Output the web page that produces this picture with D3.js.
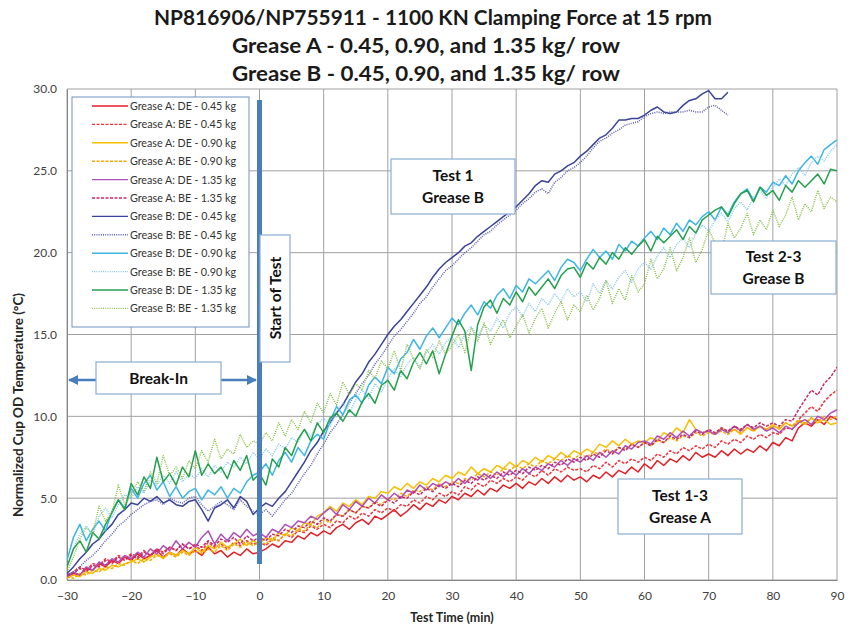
<!DOCTYPE html>
<html>
<head>
<meta charset="utf-8">
<script src="https://cdn.jsdelivr.net/npm/d3@7"></script>
<style>
body { margin: 0; background: #fff; }
text { font-family: Lato, "Open Sans", sans-serif; }
</style>
</head>
<body>
<div id="chart-area"></div>
<script>
// time axis, one reading per minute
var minutes = d3.range(-30, 91);
var xTicks = [-30, -20, -10, 0, 10, 20, 30, 40, 50, 60, 70, 80, 90];
var yTicks = [0, 5, 10, 15, 20, 25, 30];

var titleLines = [
    "NP816906/NP755911 - 1100 KN Clamping Force at 15 rpm",
    "Grease A - 0.45, 0.90, and 1.35 kg/ row",
    "Grease B - 0.45, 0.90, and 1.35 kg/ row"
];

var seriesNames = [
    "Grease A: DE - 0.45 kg", "Grease A: BE - 0.45 kg",
    "Grease A: DE - 0.90 kg", "Grease A: BE - 0.90 kg",
    "Grease A: DE - 1.35 kg", "Grease A: BE - 1.35 kg",
    "Grease B: DE - 0.45 kg", "Grease B: BE - 0.45 kg",
    "Grease B: DE - 0.90 kg", "Grease B: BE - 0.90 kg",
    "Grease B: DE - 1.35 kg", "Grease B: BE - 1.35 kg"
];

// values, t = -30 .. 90
var aDE045 = [0.2,0.4,0.3,0.7,0.6,1.0,0.8,1.2,1.0,1.4, 1.2,1.6,1.3,1.5,1.8,1.4,1.7,1.5,1.9,1.6,
    1.8,1.5,2.0,1.6,1.8,1.4,1.7,1.5,1.9,1.6, 1.7,1.9,2.2,2.0,2.4,2.3,2.7,2.5,2.9,2.7,
    3.0,2.8,3.2,3.4,3.1,3.5,3.7,3.4,3.9,3.7, 4.0,4.3,3.9,4.2,4.6,4.3,4.7,4.5,4.9,4.7,
    5.1,4.9,5.3,5.1,5.5,5.2,5.6,5.4,5.8,5.6, 5.9,5.6,6.0,5.8,6.2,5.9,6.3,6.0,6.4,6.1,
    6.3,6.0,6.4,6.2,6.6,6.3,6.7,6.5,6.9,6.6, 7.1,6.8,7.3,7.0,7.4,7.2,7.6,7.3,7.8,7.5,
    7.7,7.5,7.9,7.6,8.0,7.7,8.0,7.8,8.2,7.9, 8.4,8.2,8.7,8.5,9.3,9.6,9.4,9.8,9.5,10.0, 9.8];
var aBE045 = [0.3,0.5,0.8,0.6,1.0,0.9,1.3,1.1,1.5,1.3, 1.6,1.4,1.8,1.5,1.9,1.7,2.0,1.8,2.2,1.9,
    2.1,1.8,2.3,2.0,2.2,1.9,2.3,2.1,2.4,2.2, 2.3,2.1,2.5,2.4,2.8,2.6,3.0,2.9,3.3,3.1,
    3.4,3.2,3.6,3.5,3.9,3.7,4.1,3.9,4.3,4.1, 4.4,4.2,4.6,4.5,4.9,4.7,5.1,4.9,5.3,5.1,
    5.4,5.2,5.7,5.5,5.9,5.7,6.1,5.9,6.2,6.0, 6.3,6.1,6.5,6.3,6.7,6.4,6.8,6.6,6.9,6.7,
    6.8,6.6,7.0,6.8,7.2,6.9,7.3,7.1,7.4,7.2, 7.5,7.3,7.7,7.5,7.9,7.7,8.1,7.9,8.2,8.0,
    8.3,8.1,8.5,8.3,8.6,8.4,8.8,8.6,8.9,8.7, 9.0,8.9,9.3,9.2,9.8,10.2,10.6,10.3,10.9,11.3, 11.6];
var aDE090 = [0.1,0.3,0.2,0.5,0.4,0.7,0.6,0.9,0.8,1.0, 1.1,1.3,1.1,1.4,1.6,1.3,1.7,1.5,1.8,1.6,
    2.0,1.7,2.1,1.9,2.3,2.0,2.2,2.5,2.1,2.4, 2.2,2.6,2.4,2.9,2.7,3.2,3.0,3.5,3.4,3.9,
    4.1,4.5,4.2,4.7,4.5,4.9,4.6,5.1,5.0,5.4, 5.3,5.7,5.5,5.9,5.6,6.0,5.8,6.2,6.0,6.4,
    6.2,6.6,6.4,6.9,6.5,6.8,6.6,7.0,6.8,7.2, 6.9,7.3,7.1,7.5,7.2,7.6,7.4,7.8,7.5,7.9,
    7.7,8.0,7.8,8.3,8.1,8.5,8.2,8.6,8.3,8.5, 8.4,8.7,8.5,9.0,8.8,9.3,9.0,9.8,9.2,9.0,
    9.1,8.9,9.3,9.0,9.2,8.9,9.3,9.1,9.4,9.2, 9.5,9.2,9.6,9.4,9.7,9.5,9.9,9.6,9.8,9.5, 9.6];
var aBE090 = [0.2,0.1,0.4,0.3,0.6,0.5,0.8,0.7,1.0,0.9, 1.2,1.0,1.3,1.2,1.5,1.4,1.6,1.4,1.7,1.5,
    1.8,1.6,1.9,1.7,2.1,1.8,2.2,2.0,2.3,2.1, 2.3,2.2,2.6,2.4,2.8,2.7,3.1,3.0,3.4,3.2,
    3.7,3.5,4.0,3.9,4.3,4.1,4.5,4.4,4.8,4.6, 5.0,4.9,5.3,5.1,5.5,5.4,5.7,5.5,5.9,5.7,
    6.0,5.9,6.2,6.1,6.5,6.3,6.6,6.4,6.8,6.7, 7.0,6.8,7.1,6.9,7.3,7.1,7.4,7.3,7.6,7.4,
    7.7,7.5,7.8,7.7,8.0,7.8,8.1,8.0,8.3,8.1, 8.4,8.2,8.5,8.4,8.7,8.5,8.8,8.7,9.0,8.8,
    9.0,8.9,9.1,8.9,9.2,9.0,9.3,9.1,9.4,9.2, 9.4,9.3,9.6,9.4,9.8,9.6,9.9,9.7,10.0,9.8, 10.0];
var aDE135 = [0.2,0.5,0.3,0.8,0.6,1.1,0.9,1.3,1.1,1.5, 1.3,1.7,1.4,1.9,1.6,2.1,1.8,2.4,1.9,2.3,
    2.0,2.6,3.0,2.2,2.8,2.4,2.9,2.6,3.1,2.7, 2.9,2.6,3.1,2.9,3.4,3.2,3.6,3.5,3.9,3.7,
    4.1,4.4,4.0,4.6,4.3,4.8,4.5,5.0,4.7,5.2, 4.9,5.3,5.0,5.5,5.3,5.8,5.5,5.9,5.7,6.0,
    5.8,6.2,5.9,6.3,6.1,6.5,6.2,6.6,6.3,6.7, 6.4,6.8,6.5,6.9,6.7,7.1,6.9,7.3,7.0,7.4,
    7.2,7.6,7.3,7.8,7.5,7.9,7.7,8.2,8.0,8.4, 8.5,8.3,8.8,8.6,9.0,8.7,9.1,8.8,9.2,9.0,
    9.1,8.9,9.2,9.0,9.4,9.1,9.5,9.2,9.4,9.1, 9.3,9.0,9.4,9.2,9.6,9.8,9.5,10.0,9.8,10.2, 10.4];
var aBE135 = [0.3,0.4,0.7,0.5,0.9,0.8,1.2,1.0,1.4,1.2, 1.5,1.3,1.7,1.5,1.9,1.6,2.0,1.8,2.2,1.9,
    2.2,2.0,2.4,2.1,2.5,2.3,2.6,2.2,2.7,2.4, 2.6,2.4,2.8,2.7,3.1,2.9,3.3,3.2,3.6,3.4,
    3.8,3.6,4.0,3.9,4.3,4.1,4.5,4.4,4.7,4.5, 4.9,4.7,5.1,5.0,5.4,5.2,5.6,5.4,5.8,5.6,
    5.9,5.7,6.1,5.9,6.3,6.1,6.4,6.2,6.6,6.4, 6.7,6.5,6.9,6.7,7.0,6.8,7.2,7.0,7.4,7.2,
    7.5,7.3,7.7,7.5,7.9,7.7,8.1,7.9,8.3,8.1, 8.4,8.2,8.6,8.4,8.8,8.6,8.9,8.7,9.1,8.9,
    9.2,9.0,9.3,9.1,9.4,9.2,9.5,9.3,9.6,9.4, 9.6,9.4,9.8,9.7,10.4,11.0,11.6,11.3,12.0,12.4, 13.0];
// these two stop at t = 73
var bDE045 = [0.4,0.8,1.3,1.7,2.2,2.5,3.0,3.4,4.0,4.3, 4.7,4.6,5.0,4.8,5.1,4.7,4.9,4.6,4.5,4.8,
    4.9,4.3,3.6,4.4,4.6,4.9,4.4,5.1,4.8,4.0, 4.4,4.7,4.5,5.0,5.4,6.0,6.6,7.2,7.9,8.4,
    9.1,9.6,10.2,10.7,11.4,12.1,12.6,13.3,13.8,14.4, 15.0,15.5,15.9,16.4,16.9,17.4,17.9,18.5,19.0,19.4,
    19.7,20.0,20.4,20.6,21.0,21.3,21.6,21.9,22.2,22.5, 22.8,23.2,23.6,24.1,24.4,24.3,24.8,25.0,25.3,25.5,
    25.9,26.2,26.6,27.0,27.2,27.6,28.1,28.1,28.2,28.2, 28.4,28.7,28.9,28.6,28.5,28.6,29.0,29.3,29.4,29.7,
    29.9,29.4,29.4,29.8];
var bBE045 = [0.3,0.5,0.8,1.2,1.5,1.9,2.4,2.8,3.3,3.6, 4.0,4.3,4.6,4.8,4.9,4.6,5.0,4.8,4.7,5.0,
    5.1,4.6,4.2,4.5,4.8,4.6,4.3,4.9,4.5,4.2, 4.0,4.3,3.9,4.4,4.9,5.3,5.9,6.5,7.0,7.7,
    8.3,9.0,9.5,10.1,10.8,11.4,12.0,12.5,13.2,13.7, 14.3,14.9,15.3,15.8,16.3,16.9,17.3,17.9,18.4,18.9,
    19.2,19.6,20.0,20.3,20.7,21.1,21.3,21.7,22.0,22.3, 22.6,23.0,23.3,23.7,23.9,23.6,24.3,24.6,25.0,25.2,
    25.5,25.9,26.4,26.8,27.0,27.3,27.5,27.8,27.9,28.0, 28.3,28.5,28.6,28.5,28.6,28.6,28.6,28.7,28.6,28.6,
    28.9,29.0,28.7,28.4];
var bDE090 = [1.2,2.6,3.4,2.4,3.1,3.6,3.0,4.2,4.9,4.4, 5.6,5.0,5.9,6.4,5.5,6.0,5.1,5.7,5.0,5.4,
    5.6,4.9,5.5,5.2,5.7,5.0,5.6,5.3,6.0,6.4, 6.6,7.1,6.4,7.3,7.8,7.2,8.1,7.6,8.5,8.9,
    8.6,9.7,10.6,10.1,11.0,11.3,10.8,11.9,12.4,12.0, 13.0,12.6,13.5,13.9,14.7,14.1,14.9,15.4,14.8,15.4,
    16.0,15.6,16.3,16.8,16.2,17.0,16.6,17.4,17.8,17.2, 18.0,17.6,18.4,18.1,18.5,18.9,18.3,19.1,19.6,19.4,
    18.9,19.6,20.2,19.7,20.1,19.6,20.5,20.1,20.7,20.4, 20.9,21.3,20.8,21.5,21.1,21.8,21.3,22.0,21.7,22.2,
    22.5,22.0,22.8,22.3,23.1,23.6,23.9,23.2,24.0,23.7, 24.3,24.1,24.7,24.2,25.0,25.5,25.9,25.4,26.3,26.6, 26.9];
var bBE090 = [0.8,1.9,2.8,3.3,2.7,3.9,4.4,3.8,4.6,5.2, 5.0,5.7,5.3,6.1,5.8,6.4,5.9,6.6,6.0,6.5,
    6.2,6.8,6.3,7.0,6.6,7.2,6.9,7.5,7.1,7.8, 7.4,8.0,7.6,8.3,8.0,8.7,8.4,9.2,8.8,9.5,
    9.9,9.4,10.3,10.8,10.2,11.0,11.6,11.1,12.0,11.5, 12.3,12.9,12.4,13.2,13.6,13.0,13.9,14.4,13.8,14.5,
    14.9,14.2,15.0,15.5,14.8,15.6,15.2,16.0,15.4,16.3, 16.7,16.1,16.9,16.4,17.2,16.8,17.5,17.0,17.8,17.3,
    17.6,17.0,18.1,17.5,18.3,17.8,18.5,18.9,18.2,19.0, 19.4,19.0,19.8,20.3,19.7,20.5,20.9,20.3,21.2,21.7,
    21.3,22.0,22.4,21.9,22.7,23.1,22.6,23.4,23.8,23.3, 24.0,24.5,24.1,24.8,25.2,24.7,25.5,25.9,25.6,26.2, 26.6];
var bDE135 = [0.8,1.9,2.4,1.7,2.9,2.5,3.4,4.1,4.9,4.3, 5.9,5.2,6.3,5.6,7.5,6.0,6.5,5.8,6.9,6.3,
    7.9,6.4,7.1,6.5,6.9,6.2,7.3,6.7,7.6,6.1, 6.5,5.8,7.4,6.9,8.1,7.6,8.6,9.2,8.5,9.6,
    9.0,9.9,10.2,9.7,10.4,10.0,10.9,11.4,10.8,11.9, 12.2,11.6,12.8,12.3,13.3,13.9,13.2,14.0,12.6,13.8,
    14.9,15.9,15.2,12.8,15.6,16.7,17.1,16.3,17.2,16.8, 17.6,17.0,17.9,17.4,17.9,18.4,17.8,18.6,19.0,19.1,
    18.5,19.4,19.0,19.7,19.3,20.0,19.6,20.3,19.9,20.4, 20.8,20.1,21.0,20.6,21.0,21.4,20.8,21.6,21.2,22.0,
    22.3,22.6,22.8,22.2,23.0,23.6,23.8,23.1,24.0,23.5, 23.8,23.2,24.1,23.7,24.4,24.0,24.4,24.8,24.2,25.1, 25.0];
var bBE135 = [0.5,1.4,2.5,3.2,2.8,4.5,3.6,4.1,5.8,4.6, 5.2,6.0,5.4,6.6,5.9,7.6,6.4,6.9,6.2,7.3,
    6.8,7.9,7.2,8.6,7.4,8.0,7.7,8.9,8.1,8.5, 8.3,9.0,8.5,9.6,8.8,9.8,9.2,10.3,9.6,10.8,
    10.2,11.4,10.7,12.1,11.3,12.0,11.6,12.8,12.3,13.4, 12.9,14.0,12.8,14.4,13.5,12.9,14.1,13.6,14.6,13.8,
    14.3,15.0,13.9,15.4,14.6,15.7,14.4,15.2,15.9,14.8, 15.5,16.2,15.1,16.0,16.6,15.4,16.3,17.0,15.9,16.8,
    16.4,17.4,16.5,17.2,18.3,16.9,17.8,17.1,18.6,17.6, 18.1,19.6,18.4,19.0,20.3,18.9,19.7,20.9,19.4,20.2,
    21.4,20.6,20.0,21.8,20.9,21.5,22.4,21.1,22.0,21.4, 22.6,21.6,22.3,23.4,22.0,23.0,22.5,23.8,22.7,23.4, 23.1];

var seriesValues = [aDE045, aBE045, aDE090, aBE090, aDE135, aBE135,
                    bDE045, bBE045, bDE090, bBE090, bDE135, bBE135];

// look of each series
var seriesColors = ["#e41e26", "#f0343c", "#f5c000", "#f5a800", "#b04eb8", "#c72a6a",
                    "#3a4399", "#5a5fb0", "#3cb6e6", "#86c8ec", "#23a04c", "#8cc04a"];
var seriesDash = [null, "3,1.5", null, "3,1.5", null, "3,1.5",
                  null, "1,1.2", null, "1,1.2", null, "1,1.2"];

var margin = { top: 89, bottom: 52, left: 67, right: 15 };
var width = 852 - margin.left - margin.right;
var height = 632 - margin.top - margin.bottom;

var svg = d3.select("#chart-area").append("svg")
    .attr("width", 852)
    .attr("height", 632);

// title
svg.selectAll(".title")
    .data(titleLines).enter()
    .append("text")
        .attr("class", "title")
        .attr("x", function(d, i) { return i == 0 ? 433 : 426; })
        .attr("y", function(d, i) { return 25 + i * 28; })
        .attr("text-anchor", "middle")
        .attr("font-size", "20px")
        .attr("font-weight", "bold")
        .attr("fill", "#1a1a1a")
        .attr("textLength", function(d, i) { return i == 0 ? 558 : 388; })
        .attr("lengthAdjust", "spacingAndGlyphs")
        .text(function(d) { return d; });

var g = svg.append("g")
    .attr("transform", "translate(" + margin.left + " " + margin.top + ")");

var x = d3.scaleLinear().domain([-30, 90]).range([0, width]);
var y = d3.scaleLinear().domain([0, 30]).range([height, 0]);

// grid
g.selectAll(".vgrid")
    .data(xTicks).enter()
    .append("line")
        .attr("x1", function(d) { return x(d); })
        .attr("x2", function(d) { return x(d); })
        .attr("y1", 0)
        .attr("y2", height)
        .attr("stroke", "#a0a0a0")
        .attr("stroke-width", 1);
g.selectAll(".hgrid")
    .data(yTicks).enter()
    .append("line")
        .attr("x1", 0)
        .attr("x2", width)
        .attr("y1", function(d) { return y(d); })
        .attr("y2", function(d) { return y(d); })
        .attr("stroke", "#a0a0a0")
        .attr("stroke-width", 1);

// axes
var xAxis = g.append("g")
    .attr("transform", "translate(0 " + height + ")")
    .call(d3.axisBottom(x).tickValues(xTicks).tickSize(0).tickPadding(11));
var yAxis = g.append("g")
    .call(d3.axisLeft(y).tickValues(yTicks).tickSize(0).tickPadding(10).tickFormat(d3.format(".1f")));
[xAxis, yAxis].forEach(function(a) {
    a.select(".domain").attr("stroke", "#868686");
    a.selectAll("text")
        .attr("font-family", "Lato, sans-serif")
        .attr("font-size", "12px")
        .attr("fill", "#404040");
});

// clip for series
g.append("clipPath").attr("id", "plot-clip")
    .append("rect").attr("width", width).attr("height", height);

var line = d3.line()
    .x(function(d, i) { return x(minutes[i]); })
    .y(function(d) { return y(d); });

g.append("g").attr("clip-path", "url(#plot-clip)")
    .selectAll("path")
    .data(seriesValues).enter()
    .append("path")
        .attr("d", line)
        .attr("fill", "none")
        .attr("stroke", function(d, i) { return seriesColors[i]; })
        .attr("stroke-width", 1.5)
        .attr("stroke-dasharray", function(d, i) { return seriesDash[i]; })
        .attr("stroke-linejoin", "round");

// axis titles
svg.append("text")
    .attr("x", margin.left + width / 2)
    .attr("y", 622)
    .attr("text-anchor", "middle")
    .attr("font-size", "12.5px")
    .attr("font-weight", "bold")
    .attr("fill", "#262626")
    .text("Test Time (min)");
svg.append("text")
    .attr("transform", "translate(23 405) rotate(-90)")
    .attr("text-anchor", "middle")
    .attr("font-size", "12.5px")
    .attr("font-weight", "bold")
    .attr("fill", "#262626")
    .attr("textLength", 224)
    .attr("lengthAdjust", "spacingAndGlyphs")
    .text("Normalized Cup OD Temperature (°C)");

// annotations
var blue = "#4a7ebb";
var boxStroke = "#8aaed6";

svg.append("defs").selectAll("marker")
    .data(["arrowL", "arrowR"]).enter()
    .append("marker")
        .attr("id", function(d) { return d; })
        .attr("viewBox", "0 0 10 10")
        .attr("refX", 9).attr("refY", 5)
        .attr("markerWidth", 4).attr("markerHeight", 4)
        .attr("orient", "auto")
    .append("path")
        .attr("d", "M0,0 L10,5 L0,10 z")
        .attr("fill", blue);

// start of test bar
g.append("line")
    .attr("x1", x(0)).attr("x2", x(0))
    .attr("y1", 11).attr("y2", 475)
    .attr("stroke", blue)
    .attr("stroke-width", 5);

// break-in arrows
g.append("line")
    .attr("x1", 30).attr("x2", 2)
    .attr("y1", 291).attr("y2", 291)
    .attr("stroke", blue).attr("stroke-width", 2.5)
    .attr("marker-end", "url(#arrowL)");
g.append("line")
    .attr("x1", 154).attr("x2", 189)
    .attr("y1", 291).attr("y2", 291)
    .attr("stroke", blue).attr("stroke-width", 2.5)
    .attr("marker-end", "url(#arrowR)");

function noteBox(x0, y0, w, h, lines) {
    svg.append("rect")
        .attr("x", x0).attr("y", y0)
        .attr("width", w).attr("height", h)
        .attr("fill", "#fff")
        .attr("stroke", boxStroke)
        .attr("stroke-width", 1.2);
    var top = y0 + h / 2 - (lines.length - 1) * 11 + 5.5;
    lines.forEach(function(t, i) {
        svg.append("text")
            .attr("x", x0 + w / 2)
            .attr("y", top + i * 22)
            .attr("text-anchor", "middle")
            .attr("font-size", "15.5px")
            .attr("font-weight", "bold")
            .attr("fill", "#111")
            .text(t);
    });
}
noteBox(96, 362, 125, 32, ["Break-In"]);
noteBox(391, 159, 124, 55, ["Test 1", "Grease B"]);
noteBox(711, 241, 125, 53, ["Test 2-3", "Grease B"]);
noteBox(618, 479, 124, 55, ["Test 1-3", "Grease A"]);

// start of test label
svg.append("rect")
    .attr("x", 260).attr("y", 235)
    .attr("width", 30).attr("height", 127)
    .attr("fill", "#fff")
    .attr("stroke", boxStroke)
    .attr("stroke-width", 1.2);
svg.append("text")
    .attr("transform", "translate(281 298) rotate(-90)")
    .attr("text-anchor", "middle")
    .attr("font-size", "15.5px")
    .attr("font-weight", "bold")
    .attr("fill", "#111")
    .text("Start of Test");

// legend
var legend = svg.append("g").attr("transform", "translate(72 97)");
legend.append("rect")
    .attr("width", 177).attr("height", 230)
    .attr("fill", "#fff")
    .attr("stroke", "#6f93c4")
    .attr("stroke-width", 1);
var items = legend.selectAll(".item")
    .data(seriesNames).enter()
    .append("g")
        .attr("transform", function(d, i) { return "translate(0 " + (9 + i * 18.4) + ")"; });
items.append("line")
    .attr("x1", 20).attr("x2", 56)
    .attr("stroke", function(d, i) { return seriesColors[i]; })
    .attr("stroke-width", 1.4)
    .attr("stroke-dasharray", function(d, i) { return seriesDash[i]; });
items.append("text")
    .attr("x", 58)
    .attr("y", 4)
    .attr("font-size", "10.5px")
    .attr("fill", "#333")
    .attr("textLength", 106)
    .attr("lengthAdjust", "spacingAndGlyphs")
    .text(function(d) { return d; });
</script>
</body>
</html>
